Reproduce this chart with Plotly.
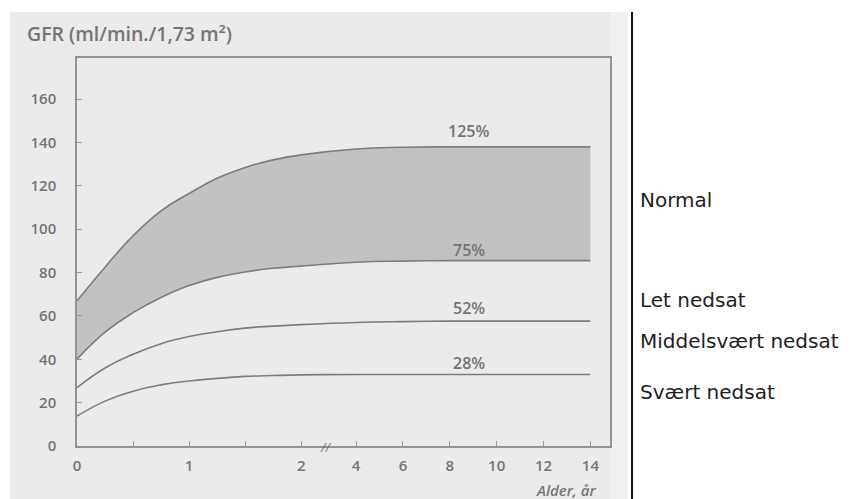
import plotly.graph_objects as go

# ---- data ----
ages = [0, 0.25, 0.5, 0.75, 1, 1.25, 1.5, 1.75, 2, 4, 6, 8, 10, 12, 14]
gfr_125 = [67, 82.5, 97, 108.5, 116.5, 123.5, 128.5, 132, 134.3, 137, 137.8, 138, 138, 138, 138]
gfr_75 = [40, 52.5, 61.5, 68.5, 74, 77.8, 80.3, 82, 83, 84.8, 85.3, 85.5, 85.5, 85.5, 85.5]
gfr_52 = [26.9, 36, 42.3, 47.2, 50.5, 52.7, 54.4, 55.3, 56, 57, 57.4, 57.6, 57.6, 57.6, 57.6]
gfr_28 = [13.8, 20.7, 25.3, 28.2, 30, 31.2, 32.1, 32.5, 32.8, 33, 33, 33, 33, 33, 33]

x_ticks = [0, 0.5, 1, 1.5, 2, 4, 6, 8, 10, 12, 14]
x_tick_labels = ["0", "", "1", "", "2", "4", "6", "8", "10", "12", "14"]
y_ticks = [0, 20, 40, 60, 80, 100, 120, 140, 160]

curve_labels = ["125%", "75%", "52%", "28%"]
curve_label_y = [145.5, 90.5, 63.7, 38.3]
label_age = 8.8

categories = ["Normal", "Let nedsat", "Middelsvært nedsat", "Svært nedsat"]
category_y = [0.634, 0.376, 0.2706, 0.14]


# broken age axis: 0-2 years on a wide scale, 4-14 years compressed
def pos(age):
    if age <= 2:
        return age
    if age >= 4:
        return 2.49 + (age - 4) * 0.209
    return 2 + (age - 2) / 2 * 0.49


xs = [pos(a) for a in ages]

LINE = "#7c7c7c"
TXT = "#747474"
FONT = "Open Sans"

fig = go.Figure()
line_style = dict(color=LINE, width=1.6, shape="spline", smoothing=1.3)
fig.add_trace(go.Scatter(x=xs, y=gfr_75, mode="lines", line=line_style, hoverinfo="skip"))
fig.add_trace(go.Scatter(x=xs, y=gfr_125, mode="lines", line=line_style,
                         fill="tonexty", fillcolor="#c2c2c2", hoverinfo="skip"))
fig.add_trace(go.Scatter(x=xs, y=gfr_52, mode="lines", line=line_style, hoverinfo="skip"))
fig.add_trace(go.Scatter(x=xs, y=gfr_28, mode="lines", line=line_style, hoverinfo="skip"))

shapes = [
    # scanned page background
    dict(type="rect", xref="paper", yref="paper", x0=-0.1257, x1=1.0,
         y0=-0.2, y1=1.1186, fillcolor="#ebebeb", line=dict(width=0), layer="below"),
    dict(type="rect", xref="paper", yref="paper", x0=1.0, x1=1.034,
         y0=-0.2, y1=1.1186, fillcolor="#f1f1f1", line=dict(width=0), layer="below"),
    # black separator line
    dict(type="line", xref="paper", yref="paper", x0=1.0413, x1=1.0413,
         y0=-0.2, y1=1.1186, line=dict(color="#111111", width=2)),
]

annotations = []
for t, yv in zip(curve_labels, curve_label_y):
    annotations.append(dict(x=pos(label_age), y=yv, xref="x", yref="y", text=t,
                            showarrow=False,
                            font=dict(family=FONT, size=16, color=TXT, weight=600)))
for t, yp in zip(categories, category_y):
    annotations.append(dict(x=1.0525, y=yp, xref="paper", yref="paper", text=t,
                            xanchor="left", yanchor="middle", showarrow=False,
                            font=dict(family="DejaVu Sans", size=20, color="#1e1e1e")))
annotations.append(dict(x=-0.0976, y=1.0644, xref="paper", yref="paper",
                        text="GFR (ml/min./1,73 m²)", xanchor="left", yanchor="middle",
                        showarrow=False,
                        font=dict(family=FONT, size=19.5, color=TXT, weight=600)))
annotations.append(dict(x=0.9775, y=-0.113, xref="paper", yref="paper",
                        text="<i>Alder, år</i>", xanchor="right", yanchor="middle",
                        showarrow=False,
                        font=dict(family=FONT, size=15, color=TXT, weight=600)))
annotations.append(dict(x=pos(2.9), y=0, xref="x", yref="y", text="<i>//</i>",
                        showarrow=False, yshift=-1,
                        font=dict(family=FONT, size=13, color=TXT)))

# the page body has an 8px margin, so the figure is sized to fit inside it
fig.update_layout(
    width=853, height=491,
    margin=dict(l=69, r=251, t=50, b=53),
    paper_bgcolor="white", plot_bgcolor="#ebebeb",
    showlegend=False,
    shapes=shapes, annotations=annotations,
)
fig.update_xaxes(
    range=[0, 4.755], tickvals=[pos(v) for v in x_ticks], ticktext=x_tick_labels,
    ticks="inside", ticklen=5, tickcolor="#9a9a9a", showgrid=False, zeroline=False,
    showline=True, linecolor="#939393", linewidth=1.5, mirror=True, automargin=False,
    tickfont=dict(family=FONT, size=15, color=TXT, weight=600), ticklabelstandoff=5,
)
fig.update_yaxes(
    range=[0, 179], tickvals=y_ticks, ticks="inside", ticklen=5, tickcolor="#9a9a9a",
    showgrid=False, zeroline=False, showline=True, linecolor="#939393", linewidth=1.5,
    mirror=True, automargin=False,
    tickfont=dict(family=FONT, size=15, color=TXT, weight=600), ticklabelstandoff=16,
)

fig.write_html("out.html")
